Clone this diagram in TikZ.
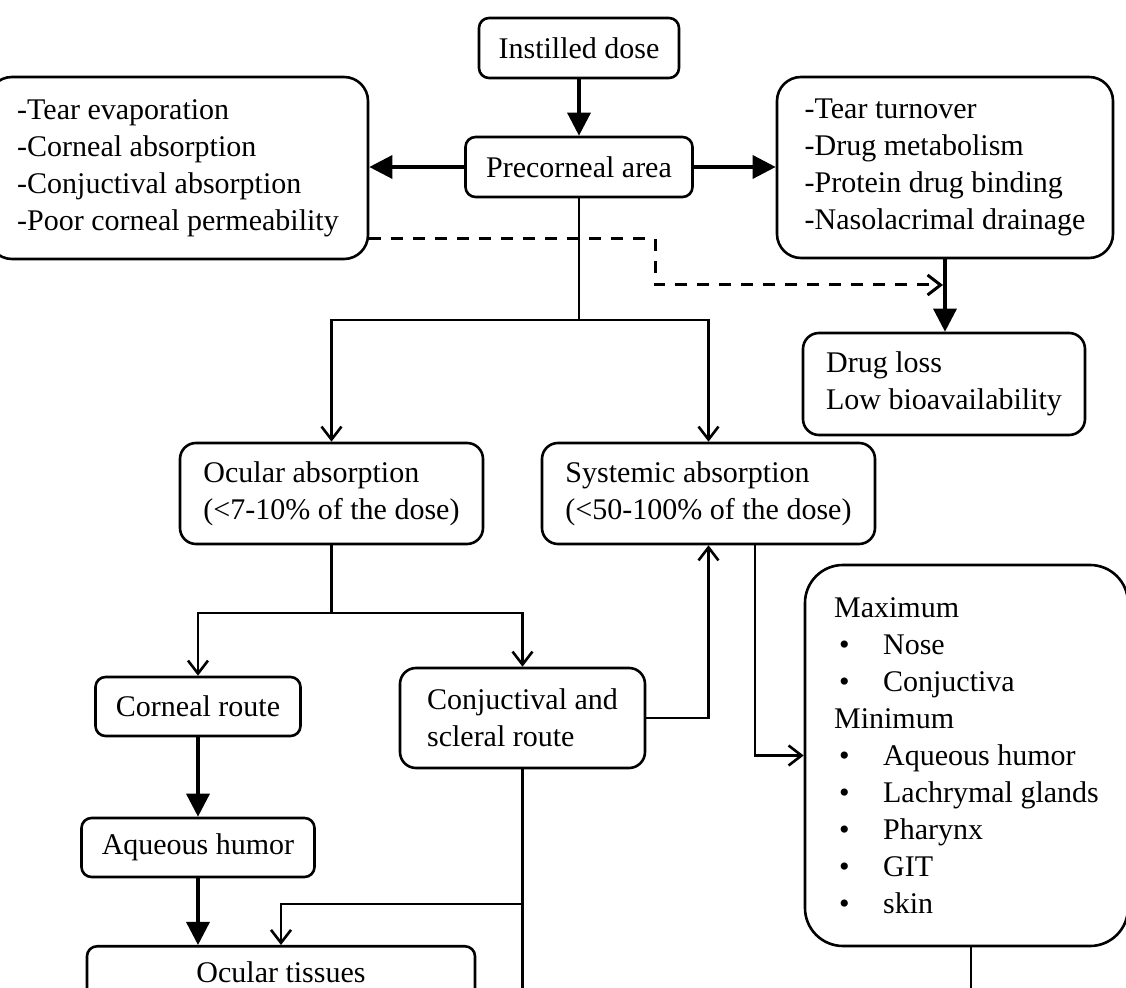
\documentclass[tikz,border=0pt]{standalone}
\usepackage{fontspec}
\setmainfont{Liberation Serif}
\usetikzlibrary{arrows.meta}

\begin{document}
\begin{tikzpicture}[x=0.5pt, y=-0.5pt, line width=1.3pt,
    kasten/.style={draw, rounded corners=5pt, align=left, inner sep=0pt, font=\fontsize{15}{18.5}\selectfont},
    dick/.style={line width=1.7pt, -{Triangle[length=11.5pt,width=11.5pt]}},
    duenn/.style={-{Straight Barb[length=6.5pt,width=10pt]}}]

    \useasboundingbox (0,0) rectangle (1126,988);
    \clip (0,0) rectangle (1126,988);

    % oberer Teil
    \node[kasten, minimum width=100pt, minimum height=30pt] (dose) at (579,48) {Instilled dose};
    \node[kasten, minimum width=113.5pt, minimum height=30pt] (vorn) at (579,167) {Precorneal area};
    \node[kasten, rounded corners=12pt, minimum width=190pt, minimum height=91pt] (links) at (178,168)
        {-Tear evaporation\\-Corneal absorption\\-Conjuctival absorption\\-Poor corneal permeability};
    \node[kasten, rounded corners=12pt, minimum width=168pt, minimum height=90.5pt] (rechts) at (945,167.5)
        {-Tear turnover\\-Drug metabolism\\-Protein drug binding\\-Nasolacrimal drainage};
    \node[kasten, rounded corners=8pt, minimum width=141pt, minimum height=51pt] (verlust) at (944,384)
        {Drug loss\\Low bioavailability};

    % Absorption
    \node[kasten, rounded corners=8pt, minimum width=151.5pt, minimum height=50.5pt] (okular) at (331.5,493.5)
        {Ocular absorption\\(<7-10\% of the dose)};
    \node[kasten, rounded corners=8pt, minimum width=166.5pt, minimum height=50.5pt] (system) at (708.5,493.5)
        {Systemic absorption\\(<50-100\% of the dose)};
    \node[kasten, minimum width=102.5pt, minimum height=29.5pt] (kornea) at (198,706.5) {Corneal route};
    \node[kasten, rounded corners=8pt, minimum width=122.5pt, minimum height=50pt] (conj) at (522.5,718)
        {Conjuctival and\\scleral route};
    \node[kasten, minimum width=116.5pt, minimum height=29.5pt] (kammer) at (198,847.5) {Aqueous humor};
    \node[kasten, anchor=north, minimum width=194pt, inner ysep=7.5pt] (gewebe) at (281,945) {Ocular tissues};
    \node[kasten, rounded corners=19pt, minimum width=161.5pt, minimum height=190.5pt] (maxbox) at (966.5,755.5)
        {Maximum\\
         \hspace*{2.5pt}\makebox[22pt][l]{\textbullet}Nose\\
         \hspace*{2.5pt}\makebox[22pt][l]{\textbullet}Conjuctiva\\
         Minimum\\
         \hspace*{2.5pt}\makebox[22pt][l]{\textbullet}Aqueous humor\\
         \hspace*{2.5pt}\makebox[22pt][l]{\textbullet}Lachrymal glands\\
         \hspace*{2.5pt}\makebox[22pt][l]{\textbullet}Pharynx\\
         \hspace*{2.5pt}\makebox[22pt][l]{\textbullet}GIT\\
         \hspace*{2.5pt}\makebox[22pt][l]{\textbullet}skin};

    \coordinate (knick) at (655,239);
    \coordinate (ziel) at (943,285);
    \coordinate (teil1) at (579,320);
    \coordinate (teil2) at (331.5,613);
    \coordinate (teil3) at (522.5,904);

    \draw[dick] (dose) -- (vorn);
    \draw[dick] (vorn.west) -- (vorn.west -| links.east);
    \draw[dick] (vorn.east) -- (vorn.east -| rechts.west);
    \draw[dick] (rechts.south) -- (rechts.south |- verlust.north);
    \draw[duenn, line width=1.5pt, dash pattern=on 6pt off 5pt] (links.east |- knick) -- (knick) |- (ziel);

    \draw (vorn) -- (teil1);
    \draw[duenn] (teil1) -| (okular.north);
    \draw[duenn] (teil1) -| (system.north);
    \draw (okular) -- (teil2);
    \draw[duenn] (teil2) -| (kornea.north);
    \draw[duenn] (teil2) -| (conj.north);
    \draw[dick] (kornea.south) -- (kornea.south |- kammer.north);
    \draw[dick] (kammer.south) -- (kammer.south |- gewebe.north);
    \draw[duenn] (conj.east) -| (system.south);
    \draw (conj.south) -- ++(0,240);
    \draw[duenn] (teil3) -| (gewebe.north);
    \draw[duenn] ([xshift=23.25pt]system.south) |- (maxbox.west);
    \draw ([xshift=2.25pt]maxbox.south) -- ++(0,60);

\end{tikzpicture}
\end{document}
